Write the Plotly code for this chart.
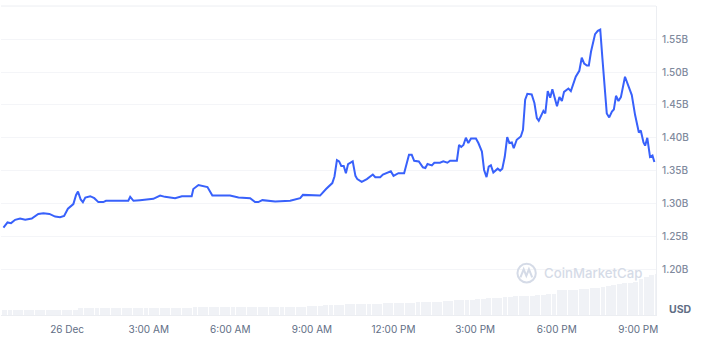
import plotly.graph_objects as go

hours = [-2.34,-2.19,-2.06,-1.91,-1.73,-1.54,-1.30,-1.06,-.87,-.65,-.44,-.26,-.11,.03,.23,.33,.40,.50,.58,.67,.85,1.00,1.15,1.33,1.43,1.76,2.07,2.25,2.32,2.44,2.68,3.17,3.42,3.60,3.97,4.22,4.58,4.64,4.83,5.16,5.34,5.99,6.30,6.73,6.91,7.03,7.18,7.65,8.20,8.57,8.67,9.30,9.52,9.75,9.83,9.92,10.0,10.08,10.17,10.25,10.33,10.50,10.60,10.67,10.83,11.02,11.24,11.33,11.51,11.61,11.90,12.00,12.18,12.39,12.57,12.67,12.76,12.93,13.08,13.17,13.25,13.41,13.50,13.71,13.83,13.98,14.08,14.33,14.41,14.49,14.57,14.66,14.75,14.85,15.03,15.12,15.25,15.33,15.42,15.50,15.58,15.67,15.83,15.92,16.00,16.09,16.18,16.26,16.35,16.42,16.53,16.61,16.68,16.76,16.84,16.92,17.08,17.18,17.27,17.34,17.51,17.58,17.67,17.76,17.84,18.01,18.10,18.19,18.27,18.43,18.52,18.70,18.83,18.92,19.01,19.11,19.18,19.26,19.41,19.51,19.60,19.68,19.75,19.84,19.93,20.03,20.10,20.18,20.27,20.36,20.51,20.76,20.88,21.02,21.09,21.19,21.25,21.33,21.43,21.52,21.59]
price_b = [1.263,1.271,1.270,1.275,1.277,1.275,1.277,1.284,1.285,1.284,1.280,1.279,1.281,1.292,1.299,1.313,1.318,1.306,1.302,1.309,1.311,1.308,1.302,1.302,1.304,1.304,1.303,1.304,1.310,1.304,1.305,1.307,1.312,1.310,1.308,1.311,1.311,1.322,1.328,1.325,1.312,1.312,1.309,1.308,1.302,1.302,1.305,1.303,1.304,1.308,1.313,1.312,1.322,1.331,1.341,1.366,1.364,1.357,1.357,1.346,1.360,1.364,1.342,1.337,1.333,1.337,1.344,1.340,1.340,1.344,1.349,1.342,1.346,1.346,1.374,1.374,1.365,1.364,1.355,1.354,1.360,1.358,1.362,1.362,1.364,1.362,1.365,1.365,1.389,1.386,1.389,1.400,1.392,1.399,1.399,1.392,1.379,1.351,1.340,1.356,1.358,1.347,1.353,1.350,1.353,1.371,1.401,1.392,1.393,1.384,1.397,1.400,1.402,1.412,1.458,1.467,1.466,1.453,1.430,1.426,1.441,1.437,1.471,1.461,1.474,1.448,1.462,1.456,1.470,1.475,1.471,1.493,1.502,1.522,1.513,1.510,1.510,1.531,1.558,1.563,1.565,1.521,1.488,1.437,1.431,1.440,1.443,1.464,1.456,1.462,1.493,1.465,1.435,1.408,1.411,1.393,1.388,1.400,1.371,1.373,1.363]

volume = [1.5,1.6,1.5,1.6,1.6,1.7,1.6,1.6,1.7,1.6,1.7,1.6,1.6,1.7,
          2.3,2.3,2.2,2.3,2.3,2.3,2.4,2.3,2.3,2.2,2.3,2.3,2.4,2.3,2.3,2.3,2.3,2.4,2.3,2.3,2.3,
          2.6,2.6,2.5,2.6,2.6,2.6,2.7,2.6,2.6,2.6,2.5,2.6,2.6,2.7,2.6,2.6,2.6,2.6,2.7,2.6,2.7,
          2.9,3.0,3.0,3.1,3.2,3.2,3.3,3.4,3.5,3.5,3.6,3.6,3.7,3.7,3.8,
          3.9,3.9,4.0,4.0,4.0,4.1,4.1,4.2,4.2,4.2,
          4.6,4.6,4.7,4.7,4.9,5.0,5.1,5.3,5.4,5.5,
          5.6,5.7,5.9,6.1,6.1,6.2,6.3,6.4,6.6,6.8,6.9,
          8.0,8.1,8.2,8.2,8.3,8.4,8.6,8.9,9.2,9.4,9.6,9.9,10.2,10.5,10.7,11.5,12.3,12.8,13.2,13.6,13.9,13.9,13.9]
volume_hours = [-2.3 + 0.2 * i for i in range(len(volume))]

tick_hours = [0, 3, 6, 9, 12, 15, 18, 21]
tick_labels = ["26 Dec", "3:00 AM", "6:00 AM", "9:00 AM", "12:00 PM", "3:00 PM", "6:00 PM", "9:00 PM"]
price_ticks = [1.20, 1.25, 1.30, 1.35, 1.40, 1.45, 1.50, 1.55]
price_labels = ["1.20B", "1.25B", "1.30B", "1.35B", "1.40B", "1.45B", "1.50B", "1.55B"]

GRID = "#f4f5f8"
EDGE = "#eceef2"
WM = "#d5dbe7"

fig = go.Figure()
fig.add_trace(go.Bar(x=volume_hours, y=volume, yaxis="y2", marker=dict(color="#f0f2f6", line_width=0),
                     width=0.18, hoverinfo="skip"))
fig.add_trace(go.Scatter(x=hours, y=price_b, mode="lines",
                         line=dict(color="#3861fb", width=2, shape="linear")))

fig.update_layout(
    width=701, height=351, margin=dict(l=1, r=45, t=6, b=36),
    paper_bgcolor="white", plot_bgcolor="white", showlegend=False,
    font=dict(family="Inter", color="#808a9d", size=10),
    xaxis=dict(range=[-2.43, 21.65], tickvals=tick_hours, ticktext=tick_labels, showgrid=False,
               zeroline=False, ticks="", showline=True, linecolor=EDGE, linewidth=1,
               ticklabelstandoff=5, tickfont=dict(color="#616e85", size=10)),
    yaxis=dict(range=[1.13, 1.6008], side="right", tickvals=price_ticks, ticktext=price_labels,
               gridcolor=GRID, gridwidth=1, zeroline=False, ticks="", showline=True,
               linecolor=EDGE, linewidth=1, mirror=False,
               ticklabelstandoff=3, tickfont=dict(color="#808a9d", size=10, weight=500)),
    yaxis2=dict(range=[0, 100], overlaying="y", visible=False),
    bargap=0,
    shapes=[
        dict(type="line", xref="paper", yref="paper", x0=0, x1=1, y0=1, y1=1, line=dict(color=EDGE, width=1)),
        dict(type="circle", xref="paper", yref="paper", x0=0.7885, x1=0.8165, y0=0.1055, y1=0.1655,
             line=dict(color=WM, width=2)),
        dict(type="path", xref="paper", yref="paper",
             path="M 0.793 0.122 L 0.798 0.148 L 0.802 0.127 L 0.806 0.148 L 0.811 0.122",
             line=dict(color=WM, width=2)),
    ],
    annotations=[
        dict(text="CoinMarketCap", xref="paper", yref="paper", x=0.8255, y=0.137, xanchor="left", yanchor="middle",
             showarrow=False, font=dict(family="Inter", size=13.2, color=WM, weight=500)),
        dict(text="USD", xref="paper", yref="paper", x=1.0168, y=0.018, xanchor="left", yanchor="middle",
             showarrow=False, font=dict(family="Inter", size=10.5, color="#616e85", weight=700)),
    ],
)
fig.write_html("out.html", config={"displayModeBar": False},
               post_script="document.body.style.margin='0';document.body.style.overflow='hidden';")
